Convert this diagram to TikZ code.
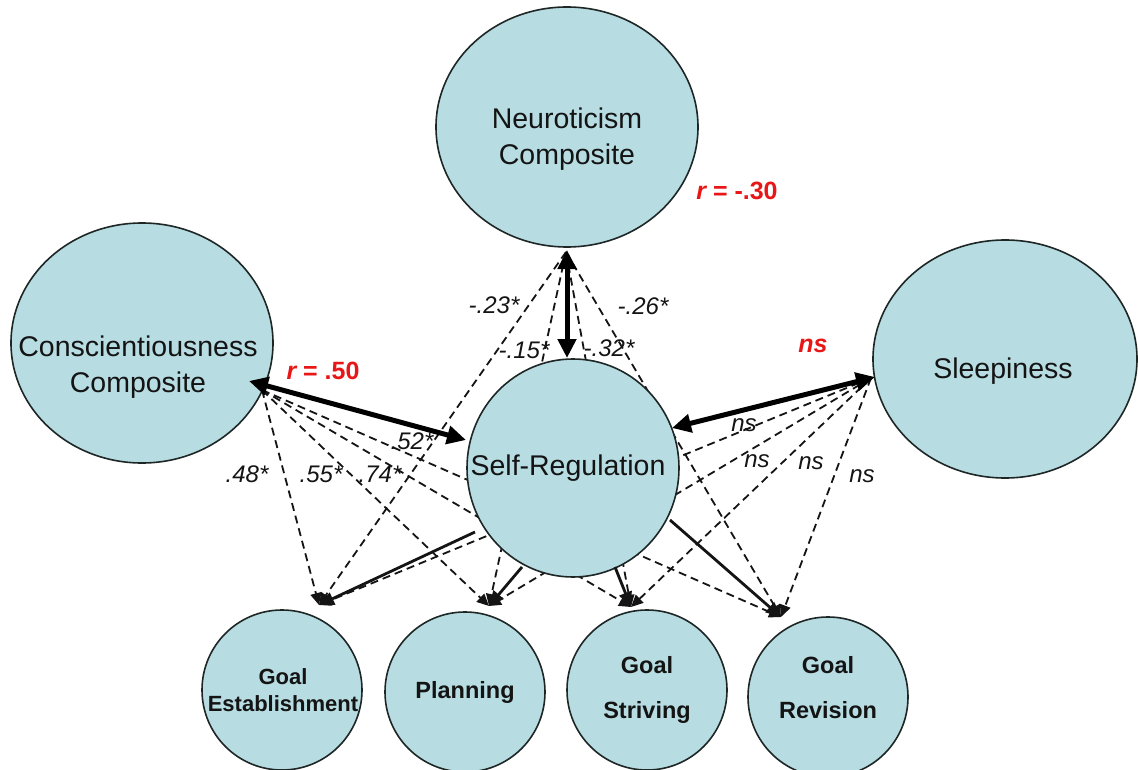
\documentclass[tikz,border=0pt]{standalone}
\usepackage{fontspec}
\setmainfont{Liberation Sans}
\usetikzlibrary{arrows.meta,shapes.geometric}

\definecolor{nodefill}{RGB}{183,221,226}
\definecolor{rimcol}{RGB}{30,38,38}
\definecolor{inkcol}{RGB}{20,20,20}
\definecolor{sigred}{RGB}{232,22,22}

\pgfdeclarelayer{paper}
\pgfdeclarelayer{back}
\pgfsetlayers{paper,back,main}

\begin{document}
\begin{tikzpicture}[x=1pt,y=-1pt,
  blob/.style={ellipse, draw=rimcol, line width=1.6pt, fill=nodefill, inner sep=0pt},
  bigtxt/.style={font=\fontsize{28.5}{35.5}\selectfont, align=center, text=inkcol, inner sep=0pt},
  goaltxt/.style={font=\bfseries\fontsize{23.5}{45}\selectfont, align=center, text=inkcol, inner sep=0pt},
  dashlink/.style={draw=inkcol, line width=1.8pt, dash pattern=on 8pt off 5pt,
    -{Triangle[length=12pt,width=11pt]}},
  solidlink/.style={draw=inkcol, line width=2.8pt, -{Triangle[length=15pt,width=13pt]}},
  corr/.style={draw=black, line width=5pt,
    {Triangle[length=19pt,width=18pt]}-{Triangle[length=19pt,width=18pt]}},
  coef/.style={font=\itshape\fontsize{24}{28}\selectfont, text=inkcol, inner sep=0pt},
  redlab/.style={font=\bfseries\fontsize{25}{30}\selectfont, text=sigred, inner sep=0pt},
]
\begin{pgfonlayer}{paper}
  \fill[white] (0,0) rectangle (1138,770);
\end{pgfonlayer}
\useasboundingbox (0,0) rectangle (1138,770);

% predictor constructs
\node[blob, minimum width=262pt, minimum height=240pt] (N) at (567,127) {};
\node[bigtxt] (Ntext) at (567,139) {Neuroticism\\Composite};
\node[blob, minimum width=262pt, minimum height=240pt] (C) at (142,343) {};
\node[bigtxt] (Ctext) at (138,367) {Conscientiousness\\Composite};
\node[blob, minimum width=264pt, minimum height=238pt] (S) at (1005,359) {};
\node[bigtxt] (Stext) at (1003,371) {Sleepiness};
\node[blob, minimum width=212pt, minimum height=218pt] (SR) at (573,468) {};
\node[bigtxt] (SRtext) at (568,468) {Self-Regulation};

% self-regulation components
\node[blob, minimum width=160pt, minimum height=160pt] (GE) at (282,690) {};
\node[goaltxt, font=\bfseries\fontsize{22}{27}\selectfont] (GEtext) at (283,690) {Goal\\Establishment};
\node[blob, minimum width=160pt, minimum height=160pt] (PL) at (465,692) {};
\node[goaltxt] (PLtext) at (465,692) {Planning};
\node[blob, minimum width=160pt, minimum height=160pt] (GS) at (647,690) {};
\node[goaltxt] (GStext) at (647,690) {Goal\\Striving};
\node[blob, minimum width=160pt, minimum height=160pt] (GR) at (828,697) {};
\node[goaltxt] (GRtext) at (828,688) {Goal\\Revision};

% connection ports
\coordinate (Nout) at (566,252);
\coordinate (Cout) at (262,390);
\coordinate (Sout) at (871,378);
\coordinate (Ntip) at (567,250);
\coordinate (SRtop) at (567,358);
\coordinate (Ctip) at (249,381);
\coordinate (SRleft) at (466,440);
\coordinate (Stip) at (875,377);
\coordinate (SRright) at (672,428);
\coordinate (SRge) at (475,532);
\coordinate (SRpl) at (522,567);
\coordinate (SRgs) at (615,567);
\coordinate (SRgr) at (670,520);
\coordinate (GEin) at (319,605);
\coordinate (PLin) at (489,606);
\coordinate (GSin) at (631,607);
\coordinate (GRin) at (781,617);

% paths from each predictor to each component (behind the ellipses)
\begin{pgfonlayer}{back}
  \foreach \src in {Nout,Cout,Sout}{
    \foreach \dst in {GEin,PLin,GSin,GRin}{
      \draw[dashlink] (\src) -- (\dst);
    }
  }
\end{pgfonlayer}

% self-regulation to components
\draw[solidlink] (SRge) -- (GEin);
\draw[solidlink] (SRpl) -- (PLin);
\draw[solidlink] (SRgs) -- (GSin);
\draw[solidlink] (SRgr) -- (GRin);

% correlations with self-regulation
\draw[corr] (Ntip) -- (SRtop);
\draw[corr] (Ctip) -- (SRleft);
\draw[corr] (Stip) -- (SRright);

% correlation labels
\node[redlab] (rN) at (737,191) {\itshape r\upshape{} = -.30};
\node[redlab] (rC) at (323,371) {\itshape r\upshape{} = .50};
\node[redlab] (rS) at (813,346) {\itshape ns};

% path coefficients
\node[coef] (n1) at (494,305) {-.23*};
\node[coef] (n2) at (524,350) {-.15*};
\node[coef] (n3) at (609,348) {-.32*};
\node[coef] (n4) at (643,306) {-.26*};
\node[coef] (c1) at (247,474) {.48*};
\node[coef] (c2) at (321,474) {.55*};
\node[coef] (c3) at (380,474) {.74*};
\node[coef] (c4) at (412,441) {.52*};
\node[coef] (s1) at (744,425) {ns};
\node[coef] (s2) at (757,461) {ns};
\node[coef] (s3) at (811,463) {ns};
\node[coef] (s4) at (862,476) {ns};
\end{tikzpicture}
\end{document}
